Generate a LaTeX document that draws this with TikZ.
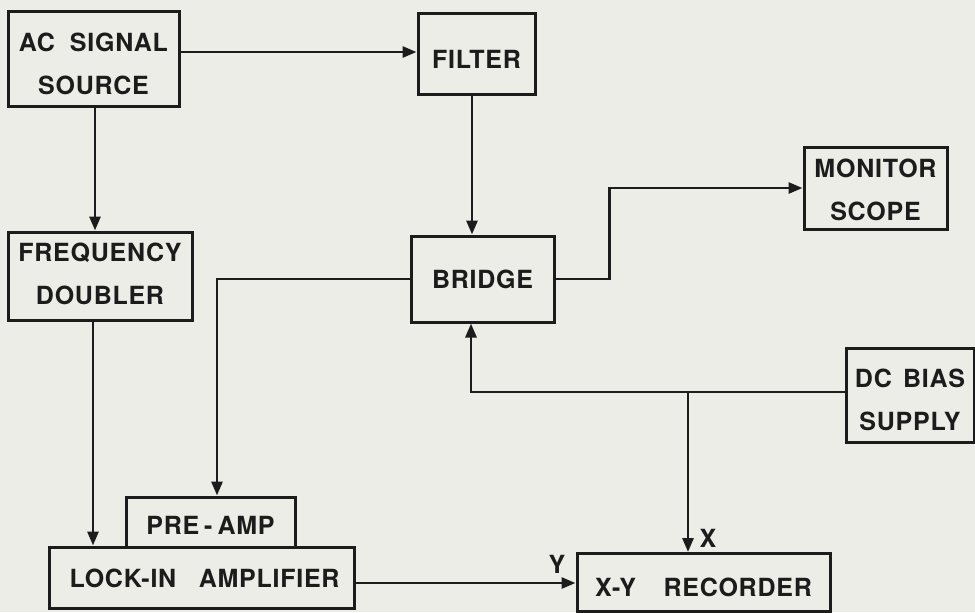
\documentclass[tikz,border=0pt]{standalone}
\usepackage{fontspec}
\setmainfont{TeX Gyre Heros}
\usetikzlibrary{arrows.meta,calc}
\definecolor{paper}{RGB}{235,237,230}
\definecolor{ink}{RGB}{28,28,28}
\newcommand{\dn}[2]{\raisebox{-#1pt}[\height][\depth]{#2}}
\begin{document}
\begin{tikzpicture}[x=0.5pt,y=-0.5pt,
  blk/.style={draw=ink,line width=1.5pt,inner sep=0pt,align=center,text=ink,
    font=\fontsize{12.5}{21.5}\selectfont\bfseries\addfontfeature{LetterSpace=3}},
  arr/.style={draw=ink,line width=1.4pt,-{Triangle[length=7pt,width=5.5pt]}},
  lbl/.style={font=\fontsize{12.5}{15}\selectfont\bfseries,text=ink,inner sep=0pt}]
\fill[paper] (0,0) rectangle (975,612);
\useasboundingbox (0,0) rectangle (975,612);
% blocks
\node[blk,minimum width=85.5pt,minimum height=47.5pt] (ac) at (93.5,58.5)
  {\dn{2.7}{AC\hspace{0.6em}SIGNAL}\\\dn{2.7}{SOURCE}};
\node[blk,minimum width=58.5pt,minimum height=40.5pt] (filter) at (476.5,53.5) {\dn{2.7}{FILTER}};
\node[blk,minimum width=92pt,minimum height=44pt] (freq) at (100,276)
  {\dn{-1}{FREQUENCY}\\\dn{-1}{DOUBLER}};
\node[blk,minimum width=71.5pt,minimum height=43pt] (bridge) at (482.5,279) {BRIDGE};
\node[blk,minimum width=71.5pt,minimum height=41pt] (monitor) at (875.5,188)
  {\dn{0.7}{MONITOR}\\\dn{0.7}{SCOPE}};
\node[blk,minimum width=64pt,minimum height=47pt] (dc) at (910,395)
  {\dn{2.5}{DC\hspace{0.45em}BIAS}\\\dn{2.5}{SUPPLY}};
\node[blk,minimum width=84.5pt,minimum height=25pt] (preamp) at (210.5,522)
  {\dn{1.5}{PRE\hspace{0.2em}-\hspace{0.2em}AMP}};
\node[blk,minimum width=152.5pt,minimum height=30.5pt] (lockin) at (201.5,577.5)
  {\hspace{3pt}\dn{0.5}{LOCK-IN\hspace{0.9em}AMPLIFIER}};
\node[blk,minimum width=126.5pt,minimum height=29pt] (rec) at (703.5,582.5)
  {\dn{2.2}{X-Y\hspace{1.1em}RECORDER}};
% helper coordinates
\coordinate (y52) at (0,52);
\coordinate (x95) at (95,0);
\coordinate (x472) at (472,0);
\coordinate (x217) at (217,0);
\coordinate (x93) at (93,0);
\coordinate (y583) at (0,583);
\coordinate (y392) at (0,392);
\coordinate (x471) at (471,0);
\coordinate (J) at (688,392);
% connectors
\draw[arr] (ac.east |- y52) -- (filter.west |- y52);
\draw[arr] (ac.south -| x95) -- (freq.north -| x95);
\draw[arr] (filter.south -| x472) -- (bridge.north -| x472);
\draw[arr] (bridge.east) -- ++(54,0) |- (monitor.west);
\draw[arr] (bridge.west) -| (preamp.north -| x217);
\draw[arr] (freq.south -| x93) -- (lockin.north -| x93);
\draw[arr] (lockin.east |- y583) -- (rec.west |- y583);
\draw[arr] (dc.west |- y392) -| (bridge.south -| x471);
\draw[arr] (J) -- (rec.north -| J);
% labels
\node[lbl] (xl) at (708,538) {X};
\node[lbl] (yl) at (557,564) {Y};
\end{tikzpicture}
\end{document}
